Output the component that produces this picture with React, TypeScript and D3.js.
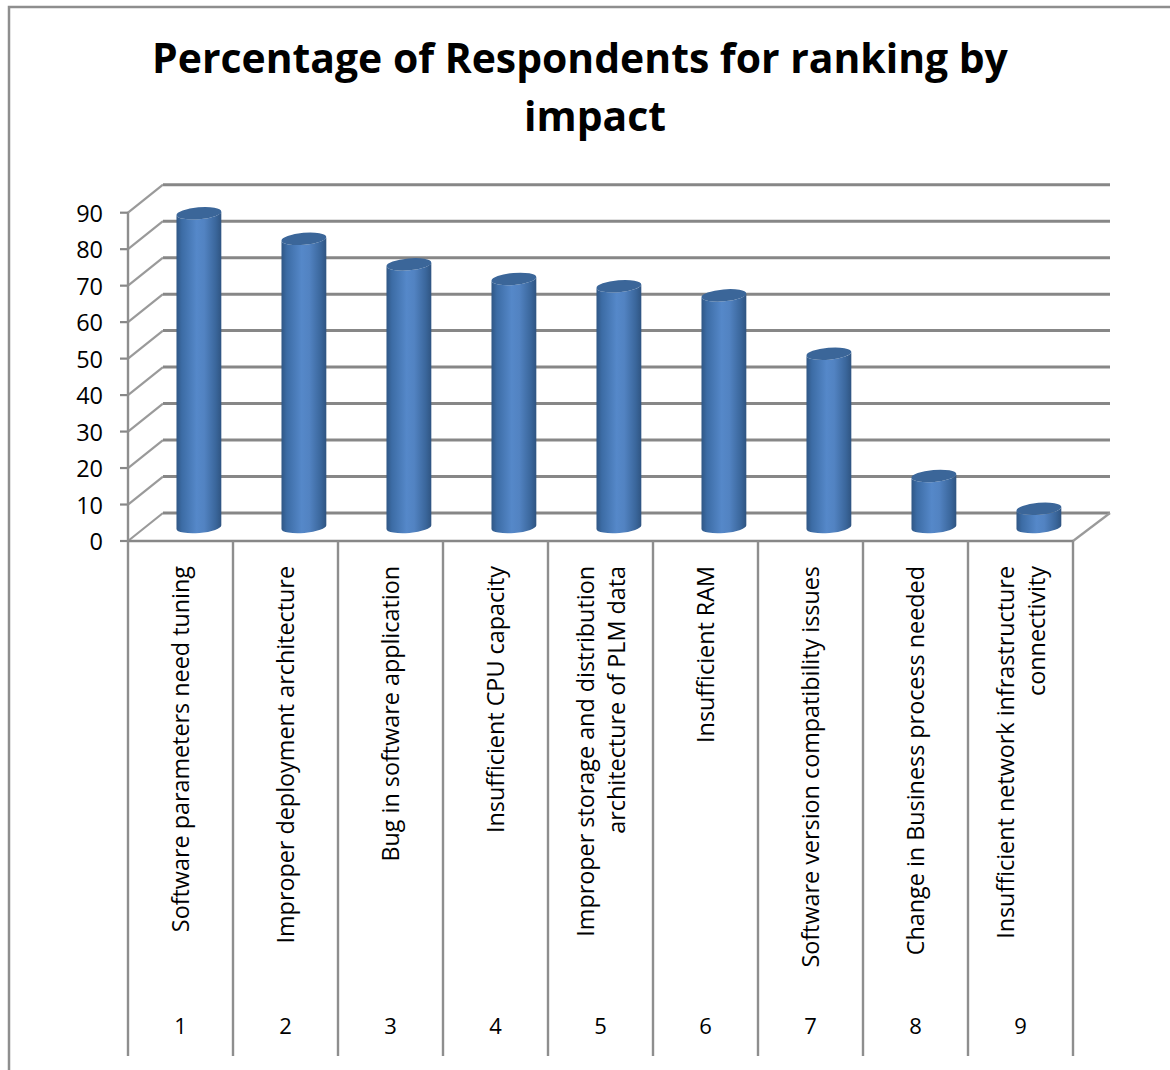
import React from "react";
import * as d3 from "d3";

const titleLines = ["Percentage of Respondents for ranking by", "impact"];
const ranks = ["1", "2", "3", "4", "5", "6", "7", "8", "9"];
const categoryLines = [
  ["Software parameters need tuning"],
  ["Improper deployment architecture"],
  ["Bug in software application"],
  ["Insufficient CPU capacity"],
  ["Improper storage and distribution", "architecture of PLM data"],
  ["Insufficient RAM"],
  ["Software version compatibility issues"],
  ["Change in Business process needed"],
  ["Insufficient network infrastructure", "connectivity"],
];
const percentages = [86, 79, 72, 68, 66, 63.5, 47.5, 14, 5];
const yTicks = [0, 10, 20, 30, 40, 50, 60, 70, 80, 90];

const FONT = "'Open Sans', sans-serif";
const GRID = "#878787";
const AXIS = "#8e8e8e";

// Plot box: front plane plus the oblique depth of the 3-D floor
const frontLeft = 128;
const frontRight = 1073;
const backLeft = 163;
const backRight = 1110;
const depthY = -28;
const axisBottom = 1056;

// Title line anchors
const titleX = [580, 595];
const titleY = [72.7, 131];

const x = d3.scaleBand<string>().domain(ranks).range([frontLeft, frontRight]);
const y = d3.scaleLinear().domain([0, 90]).range([541, 212.7]);

// Cylinder footprint, sitting half way into the depth of the floor
const rx = 22.5;
const ry = 6;
const tilt = -0.085;
const offsetX = 18.4;
const offsetY = -14;

function cylinderBody(cx: number, topY: number, baseY: number) {
  const dx = rx * Math.cos(tilt);
  const dy = rx * Math.sin(tilt);
  const rot = (tilt * 180) / Math.PI;
  return (
    `M${cx - dx},${topY - dy}` +
    `L${cx - dx},${baseY - dy}` +
    `A${rx},${ry} ${rot} 0 0 ${cx + dx},${baseY + dy}` +
    `L${cx + dx},${topY + dy}` +
    `A${rx},${ry} ${rot} 0 1 ${cx - dx},${topY - dy}Z`
  );
}

export default function App() {
  const barCx = (r: string) => (x(r) as number) + x.bandwidth() / 2 + offsetX;
  const edges = [...ranks.map((r) => x(r) as number), frontRight];
  return (
    <svg
      width={1170}
      height={1070}
      style={{ position: "absolute", left: 0, top: 0, background: "#fff" }}
      fontFamily={FONT}
    >
      <defs>
        <linearGradient id="cyl" x1="0" x2="1" y1="0" y2="0">
          <stop offset="0" stopColor="#305785" />
          <stop offset="0.12" stopColor="#3c6ca5" />
          <stop offset="0.45" stopColor="#5588c9" />
          <stop offset="0.62" stopColor="#5283c2" />
          <stop offset="0.88" stopColor="#3a669b" />
          <stop offset="1" stopColor="#2f5481" />
        </linearGradient>
      </defs>

      {/* outer chart frame */}
      <path d="M9,1070V7H1170" fill="none" stroke={AXIS} strokeWidth={2.5} />

      {/* title */}
      {titleLines.map((t, i) => (
        <text
          key={t}
          x={titleX[i]}
          y={titleY[i]}
          textAnchor="middle"
          fontSize={40.9}
          fontWeight={700}
          fill="#000"
        >
          {t}
        </text>
      ))}

      {/* back wall and side wall gridlines */}
      {yTicks.map((t) => (
        <g key={t} stroke={GRID} fill="none">
          <line x1={frontLeft} x2={backLeft} y1={y(t)} y2={y(t) + depthY} strokeWidth={2.2} stroke="#9a9a9a" />
          <line x1={backLeft} x2={backRight} y1={y(t) + depthY} y2={y(t) + depthY} strokeWidth={3} />
          <line x1={frontLeft - 8} x2={frontLeft} y1={y(t)} y2={y(t)} strokeWidth={2.2} />
        </g>
      ))}
      <line x1={frontRight} x2={backRight} y1={y(0)} y2={y(0) + depthY} stroke="#9a9a9a" strokeWidth={2.2} />
      <line x1={frontLeft} x2={frontRight} y1={y(0)} y2={y(0)} stroke={GRID} strokeWidth={2.6} />
      <line x1={frontLeft} x2={frontLeft} y1={y(90)} y2={axisBottom} stroke={AXIS} strokeWidth={2.4} />

      {/* category separators */}
      {edges.slice(1).map((e) => (
        <line key={e} x1={e} x2={e} y1={y(0)} y2={axisBottom} stroke={AXIS} strokeWidth={2.4} />
      ))}

      {/* value axis labels */}
      {yTicks.map((t) => (
        <text key={t} x={103} y={y(t) + 9} textAnchor="end" fontSize={23.5} fill="#000">
          {t}
        </text>
      ))}

      {/* cylinders */}
      {ranks.map((r, i) => {
        const cx = barCx(r);
        const topY = y(percentages[i]) + offsetY;
        const baseY = y(0) + offsetY;
        return (
          <g key={r}>
            <path d={cylinderBody(cx, topY, baseY)} fill="url(#cyl)" />
            <ellipse
              cx={cx}
              cy={topY}
              rx={rx}
              ry={ry}
              transform={`rotate(${(tilt * 180) / Math.PI} ${cx} ${topY})`}
              fill="#3b6699"
            />
          </g>
        );
      })}

      {/* rotated category labels, wrapped lines read outward from the axis */}
      {ranks.map((r, i) => {
        const lines = categoryLines[i];
        const center = (x(r) as number) + x.bandwidth() / 2;
        return lines.map((line, j) => {
          const bx = center + 8.5 + (j - (lines.length - 1) / 2) * 31;
          return (
            <text
              key={line}
              transform={`translate(${bx},566) rotate(-90)`}
              textAnchor="end"
              fontSize={23.35}
              fill="#000"
            >
              {line}
            </text>
          );
        });
      })}

      {/* rank labels */}
      {ranks.map((r) => (
        <text
          key={r}
          x={(x(r) as number) + x.bandwidth() / 2}
          y={1034}
          textAnchor="middle"
          fontSize={22}
          fill="#000"
        >
          {r}
        </text>
      ))}
    </svg>
  );
}
